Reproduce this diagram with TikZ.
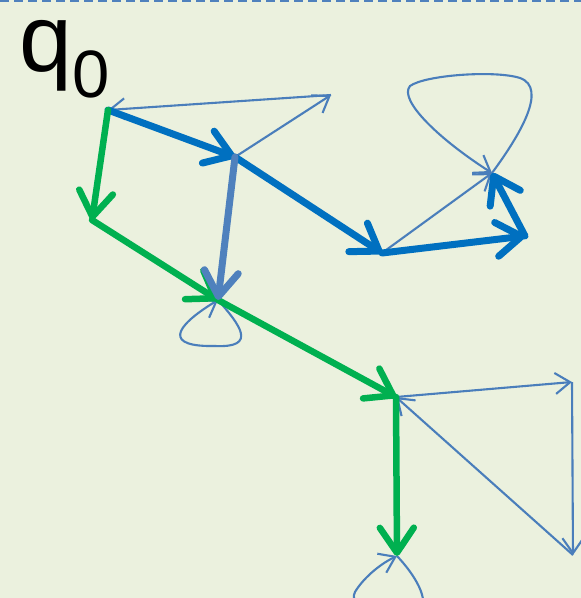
\documentclass[tikz,border=0pt]{standalone}
\usepackage{fontspec}
\setmainfont{Liberation Sans}
\usetikzlibrary{arrows.meta}
\definecolor{bg}{HTML}{EBF1DE}
\definecolor{thickblue}{HTML}{0070C0}
\definecolor{steel}{HTML}{4F81BD}
\definecolor{thinblue}{HTML}{4A7EBB}
\definecolor{grn}{HTML}{00B050}
\tikzset{
  thinarr/.style={draw=thinblue, line width=2.1pt, -{Straight Barb[length=15pt,width=21pt]}},
  thickarr/.style={line width=7pt, line cap=round, -{Straight Barb[length=25pt,width=34pt,round]}},
  bluearr/.style={thickarr, draw=thickblue},
  steelarr/.style={thickarr, draw=steel},
  greenarr/.style={thickarr, draw=grn, line width=6.5pt},
  label/.style={inner sep=0pt, anchor=base west, text height=50pt, text depth=27pt, font=\fontsize{95}{95}\selectfont}
}
\begin{document}
\begin{tikzpicture}[x=1pt,y=-1pt]
\useasboundingbox (0,0) rectangle (581,598);
\fill[bg] (0,0) rectangle (581,598);
\clip (0,0) rectangle (581,598);
\draw[steel, line width=2pt, dash pattern=on 9pt off 5pt] (0,1) -- (581,1);
\node[label] (q0) at (19,71) {q\raisebox{-26pt}{\fontsize{67}{67}\selectfont 0}};
% states
\coordinate (A) at (108,110);
\coordinate (B) at (235,157);
\coordinate (C) at (331,95);
\coordinate (D) at (92,220);
\coordinate (E) at (218,300);
\coordinate (F) at (382,253);
\coordinate (G) at (492,173);
\coordinate (H) at (525,236);
\coordinate (I) at (396,397);
\coordinate (J) at (572,382);
\coordinate (K) at (573,555);
\coordinate (L) at (397,556);
% thin transitions
\draw[thinarr] (B) -- (C);
\draw[thinarr] (C) -- (A);
\draw[thinarr] (F) -- (G);
\draw[thinarr] (I) -- (J);
\draw[thinarr] (J) -- (K);
\draw[thinarr] (K) -- (I);
\draw[thinarr] (E) .. controls (240,325) and (258,348) .. (215,346)
                   .. controls (165,347) and (172,328) .. (E);
\draw[thinarr] (G) .. controls (520,135) and (548,88) .. (520,78)
                   .. controls (495,70) and (425,75) .. (410,86)
                   .. controls (398,100) and (440,140) .. (G);
\draw[thinarr] (L) .. controls (415,575) and (430,600) .. (420,612)
                   .. controls (400,628) and (345,610) .. (355,592)
                   .. controls (362,580) and (378,565) .. (L);
% thick transitions
\draw[bluearr] (A) -- (B);
\draw[bluearr] (B) -- (F);
\draw[bluearr] (F) -- (H);
\draw[bluearr] (H) -- (G);
\draw[greenarr] (A) -- (D);
\draw[greenarr] (D) -- (E);
\draw[greenarr] (E) -- (I);
\draw[greenarr] (I) -- (L);
\draw[steelarr] (B) -- (E);
\end{tikzpicture}
\end{document}
